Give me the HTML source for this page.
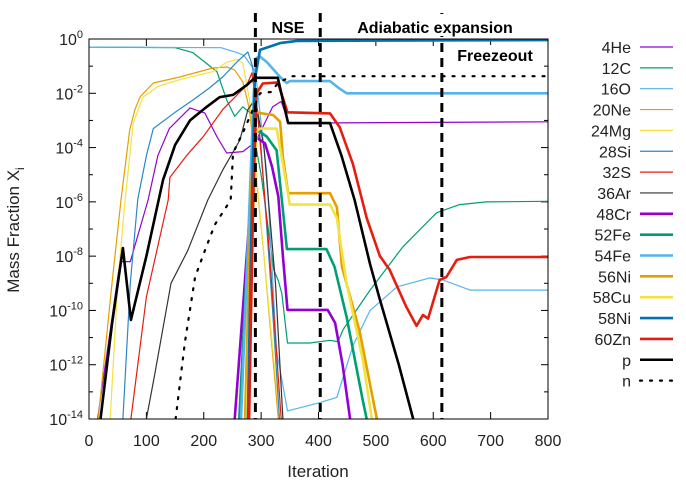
<!DOCTYPE html>
<html><head><meta charset="utf-8"><style>
html,body{margin:0;padding:0;background:#fff;}
svg{display:block;font-family:"Liberation Sans",sans-serif;}
</style></head><body>
<svg id="chart" width="686" height="491" viewBox="0 0 686 491" xmlns="http://www.w3.org/2000/svg">
<defs><clipPath id="clip"><rect x="89" y="39" width="459" height="380"/></clipPath></defs>
<g id="grid-ticks"></g>
<g id="series" clip-path="url(#clip)"></g>
<g id="dash"></g>
<rect x="89" y="39" width="459" height="380" fill="none" stroke="#000" stroke-width="1"/>
<g id="labels" font-size="16" fill="#222"></g>
<text x="318" y="477" font-size="17" text-anchor="middle" fill="#222">Iteration</text>
<text transform="translate(19,230) rotate(-90)" font-size="17" text-anchor="middle" fill="#222">Mass Fraction X<tspan font-size="12" dy="5">i</tspan></text>
<text x="288" y="33" font-size="16" font-weight="bold" text-anchor="middle">NSE</text>
<rect x="346" y="14" width="178" height="22" fill="#fff"/>
<text x="435" y="33" font-size="16" font-weight="bold" text-anchor="middle">Adiabatic expansion</text>
<rect x="448" y="45" width="96" height="20" fill="#fff"/>
<text x="495" y="61" font-size="16" font-weight="bold" text-anchor="middle">Freezeout</text>
<g id="legend" font-size="16" fill="#222"></g>
</svg>
<script>
const xTicks=[0,100,200,300,400,500,600,700,800];
const yExps=[0,-2,-4,-6,-8,-10,-12,-14];
const phaseLines=[290,403,615];
const names=["4He","12C","16O","20Ne","24Mg","28Si","32S","36Ar","48Cr","52Fe","54Fe","56Ni","58Cu","58Ni","60Zn","p","n"];
const colors=["#9400d3","#009e73","#56b4e9","#e69f00","#f0e442","#2a88c8","#e51e10","#333333","#9400d3","#009e73","#56b4e9","#e69f00","#f0e442","#0072b2","#e51e10","#000000","#000000"];
const s4He=[[15,-14],[54,-8.2],[72,-8.2],[103,-5.93],[120,-4.3],[140,-3.3],[176,-2.54],[202,-2.73],[223,-3.6],[240,-4.2],[268,-4.15],[290,-3.8],[320,-2.5],[335,-2.3],[348,-3.1],[800,-3.05]];
const s12C=[[0,-0.3],[150,-0.32],[181,-0.5],[223,-1.2],[240,-2.25],[254,-2.85],[268,-2.5],[280,-2.7],[300,-5],[322,-8.5],[330,-8.9],[336,-9.37],[346,-11.2],[385,-11.2],[420,-11.1],[434,-11.15],[443,-10.7],[490,-9.25],[547,-7.66],[606,-6.4],[646,-6.1],[693,-6.0],[800,-5.98]];
const s16O=[[0,-0.3],[230,-0.32],[258,-0.5],[270,-0.6],[290,-1.2],[310,-5],[327,-11.5],[346,-13.7],[402,-13.4],[432,-13.2],[460,-11.3],[490,-10],[537,-9.13],[594,-8.8],[617,-8.88],[664,-9.25],[800,-9.25]];
const s20Ne=[[16,-14],[40,-9],[56,-5.9],[71,-3.35],[80,-2.6],[89,-2.13],[112,-1.62],[158,-1.4],[216,-1.07],[240,-1.03],[254,-1.14],[268,-1.58],[280,-2.6],[305,-8],[330,-14]];
const s24Mg=[[37,-14],[50,-9],[63,-5.93],[77,-3.1],[94,-2.14],[120,-1.75],[158,-1.5],[216,-1.2],[240,-0.85],[258,-0.75],[268,-0.9],[280,-2.25],[305,-8],[332,-14]];
const s28Si=[[59,-14],[72,-9],[85,-5.9],[100,-4.3],[112,-3.3],[150,-2.7],[181,-2.25],[210,-1.8],[233,-1.4],[260,-0.8],[277,-0.48],[285,-1],[300,-4],[320,-10],[332,-14]];
const s32S=[[73,-14],[100,-9.5],[138,-5.93],[141,-5.1],[170,-4.3],[199,-3.6],[233,-2.6],[275,-1.7],[284,-1.25],[295,-3],[315,-8],[335,-14]];
const s36Ar=[[100,-14],[115,-12.3],[143,-9],[172,-7.8],[207,-5.93],[233,-4.83],[263,-3.72],[277,-2.6],[290,-2.2],[305,-4],[325,-9],[338,-14]];
const s48Cr=[[254,-14],[268,-10],[282,-5.9],[290,-3.6],[307,-3.85],[319,-4.7],[330,-5.8],[338,-8],[346,-9.98],[416,-9.98],[429,-10.46],[442,-12],[455,-14]];
const s52Fe=[[262,-14],[276,-8],[286,-4],[293,-3.35],[310,-3.6],[327,-4.1],[338,-6.3],[345,-7.74],[414,-7.74],[428,-8.4],[449,-10.24],[477,-13.3],[484,-14]];
const s54Fe=[[265,-14],[280,-6],[287,-2],[292,-0.7],[298,-0.65],[310,-0.85],[333,-1.4],[345,-1.62],[350,-1.55],[420,-1.55],[435,-1.8],[449,-2.0],[800,-2.0]];
const s56Ni=[[272,-14],[282,-6],[289,-2.7],[321,-2.8],[333,-3.05],[338,-4.35],[347,-5.68],[420,-5.68],[432,-6.2],[441,-8.4],[472,-10.8],[498,-13.6],[502,-14]];
const s58Cu=[[275,-14],[285,-7],[292,-3.4],[298,-3.3],[327,-3.3],[338,-4.6],[350,-6.1],[420,-6.1],[432,-6.6],[449,-9.0],[477,-11.8],[493,-14]];
const s58Ni=[[277,-14],[284,-6],[289,-1.5],[298,-0.4],[333,-0.15],[362,-0.07],[800,-0.04]];
const s60Zn=[[279,-14],[286,-6],[292,-2.0],[303,-1.64],[329,-1.6],[346,-2.7],[420,-2.74],[437,-3.25],[460,-4.6],[484,-6.6],[507,-8.0],[524,-8.5],[553,-9.87],[571,-10.57],[582,-10.17],[591,-10.3],[611,-8.88],[623,-8.77],[641,-8.14],[664,-8.03],[800,-8.03]];
const sP=[[20,-14],[40,-10.5],[59,-7.7],[73,-10.35],[100,-8],[129,-5.2],[150,-3.9],[176,-3.0],[205,-2.5],[228,-2.14],[251,-2.06],[275,-1.7],[289,-1.43],[329,-1.43],[347,-3.1],[420,-3.1],[440,-4.3],[463,-5.93],[490,-8.3],[507,-9.6],[540,-12],[565,-14]];
const sN=[[151,-14],[167,-11.2],[185,-8.77],[199,-7.96],[219,-6.85],[247,-5.93],[251,-4.2],[268,-3.46],[298,-2.0],[318,-1.95],[330,-1.6],[355,-1.37],[800,-1.37]];
const allSeries=[s4He,s12C,s16O,s20Ne,s24Mg,s28Si,s32S,s36Ar,s48Cr,s52Fe,s54Fe,s56Ni,s58Cu,s58Ni,s60Zn,sP,sN];

const X0=89,X1=548,Y0=39,Y1=419;
const xs=v=>X0+(v/800)*(X1-X0);
const ys=e=>Y0+(-e/14)*(Y1-Y0);
const NS="http://www.w3.org/2000/svg";
function mk(tag,attrs,parent){const e=document.createElementNS(NS,tag);for(const k in attrs)e.setAttribute(k,attrs[k]);parent.appendChild(e);return e;}
const tg=document.getElementById('grid-ticks');
const lg=document.getElementById('labels');
xTicks.forEach(v=>{
  const t1=mk('line',{x1:xs(v),x2:xs(v),y1:Y1,y2:Y1-7,stroke:'#000'},tg);
  
  
  const t2=mk('line',{x1:xs(v),x2:xs(v),y1:Y0,y2:Y0+7,stroke:'#000'},tg);
  
  
  const t=mk('text',{x:xs(v),y:446,'text-anchor':'middle'},lg);
  t.textContent=v;
  
  
});
for(let e=0;e>=-14;e--){
  const len=(e%2===0)?7:4;
  const a=mk('line',{x1:X0,x2:X0+len,y1:ys(e),y2:ys(e),stroke:'#000'},tg);
  
  
  const b=mk('line',{x1:X1,x2:X1-len,y1:ys(e),y2:ys(e),stroke:'#000'},tg);
  
  
}
yExps.forEach(e=>{
  const t=mk('text',{x:83,y:ys(e)+6,'text-anchor':'end'},lg);
  
  
  t.appendChild(document.createTextNode('10'));
  const sp=mk('tspan',{'font-size':'11',dy:'-7'},t);
  sp.textContent=String(e);
});
const sg=document.getElementById('series');
allSeries.forEach((s,i)=>{
  const thick=i>=8;
  const attrs={points:s.map(p=>xs(p[0]).toFixed(1)+','+ys(p[1]).toFixed(1)).join(' '),fill:'none',stroke:colors[i],'stroke-width':thick?2.6:1.2,'stroke-linejoin':'round'};
  if(i===16){attrs['stroke-dasharray']='2 8';attrs['stroke-linecap']='round';attrs['stroke-width']=2.2;}
  const pl=mk('polyline',attrs,sg);
  
  
});
const dg=document.getElementById('dash');
phaseLines.forEach(v=>{
  const l=mk('line',{x1:xs(v),x2:xs(v),y1:13,y2:Y1,stroke:'#000','stroke-width':3,'stroke-dasharray':'9 6'},dg);
  
  
});
const leg=document.getElementById('legend');
names.forEach((n,i)=>{
  const y=47+i*20.85;
  const t=mk('text',{x:631,y:y+6,'text-anchor':'end'},leg);
  t.textContent=n;
  
  
  const a={x1:640,x2:673,y1:y,y2:y,stroke:colors[i],'stroke-width':i>=8?2.6:1.2};
  if(i===16){a['stroke-dasharray']='2 8';a['stroke-linecap']='round';a['stroke-width']=2.2;}
  const l=mk('line',a,leg);
  
  
});
</script>
</body></html>
